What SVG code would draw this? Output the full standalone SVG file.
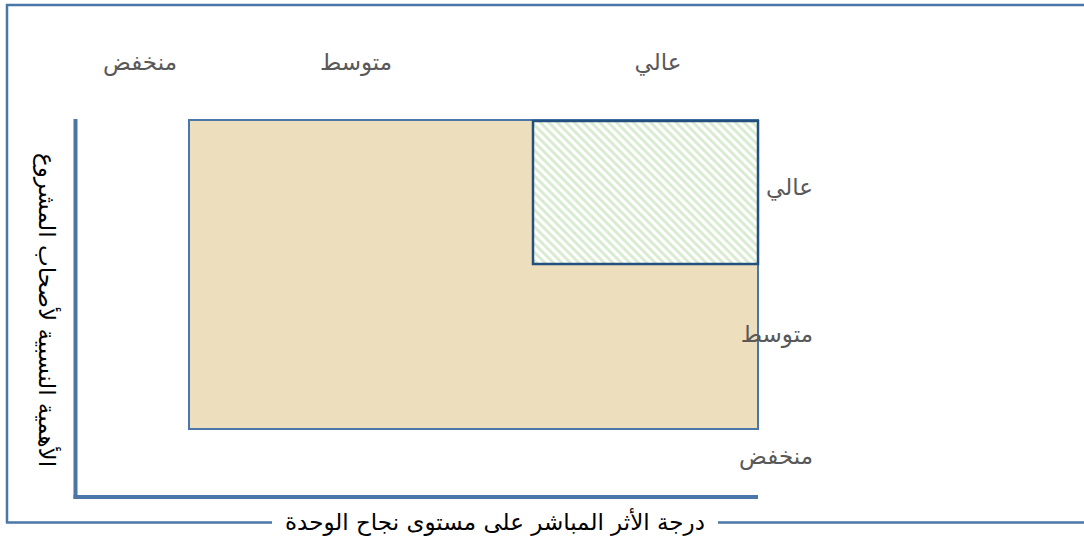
<svg xmlns="http://www.w3.org/2000/svg" width="1084" height="538" viewBox="0 0 1084 538">
<style>
.frame{stroke:#4a76a8;stroke-width:2.5;fill:none}
.axis{stroke:#4a76a8;stroke-width:4;fill:none}
.lbl{font-family:"DejaVu Sans","Noto Sans",sans-serif;font-size:23px;fill:#595959}
.title{font-family:"DejaVu Sans","Noto Sans",sans-serif;font-size:23px;fill:#000}
</style>
<defs>
<pattern id="hatch" width="6" height="6" patternUnits="userSpaceOnUse" patternTransform="rotate(-45)">
<rect width="6" height="6" fill="#ffffff"/>
<rect width="3" height="6" fill="#d9ecd2"/>
</pattern>
</defs>
<g id="frame">
<line class="frame" x1="6" y1="5" x2="1084" y2="5"/>
<line class="frame" x1="7" y1="4" x2="7" y2="523"/>
<line class="frame" x1="6" y1="522.5" x2="272" y2="522.5"/>
<line class="frame" x1="718" y1="522.5" x2="1084" y2="522.5"/>
</g>
<g id="axes">
<line class="axis" x1="75.5" y1="119" x2="75.5" y2="499"/>
<line class="axis" x1="73.5" y1="497" x2="758" y2="497"/>
</g>
<g id="region-all">
<rect x="189" y="120" width="569" height="309" fill="#eddfbd" stroke="#4a76a8" stroke-width="2"/>
</g>
<g id="region-high">
<rect x="533" y="121" width="225" height="143" fill="url(#hatch)" stroke="#23507e" stroke-width="2.5"/>
</g>
<g id="labels-top">
<text class="lbl" x="140" y="70" text-anchor="middle" direction="rtl">منخفض</text>
<text class="lbl" x="356" y="70" text-anchor="middle" direction="rtl">متوسط</text>
<text class="lbl" x="658" y="70" text-anchor="middle" direction="rtl">عالي</text>
</g>
<g id="labels-right">
<text class="lbl" x="813" y="195" text-anchor="start" direction="rtl">عالي</text>
<text class="lbl" x="813" y="342" text-anchor="start" direction="rtl">متوسط</text>
<text class="lbl" x="813" y="464" text-anchor="start" direction="rtl">منخفض</text>
</g>
<g id="axis-titles">
<text class="title" transform="translate(39,310) rotate(90)" text-anchor="middle" direction="rtl">الأهمية النسبية لأصحاب المشروع</text>
<text class="title" x="495" y="530" text-anchor="middle" direction="rtl">درجة الأثر المباشر على مستوى نجاح الوحدة</text>
</g>
</svg>
